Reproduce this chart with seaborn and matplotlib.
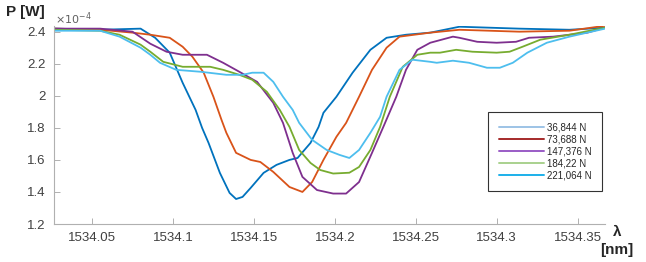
import numpy as np
import pandas as pd
import matplotlib.pyplot as plt
import seaborn as sns
from matplotlib.lines import Line2D

sns.set_style("white")
plt.rcParams['font.family'] = ['Liberation Sans', 'DejaVu Sans']

# wavelength [nm] and power [x1e-4 W], one pair per load
wl_36 = [1534.027, 1534.055, 1534.080, 1534.089, 1534.098, 1534.106, 1534.114, 1534.118,
         1534.122, 1534.129, 1534.135, 1534.139, 1534.143, 1534.148, 1534.156, 1534.164,
         1534.172, 1534.177, 1534.185, 1534.190, 1534.193, 1534.201, 1534.211, 1534.222,
         1534.232, 1534.244, 1534.259, 1534.277, 1534.314, 1534.345, 1534.367]
p_36 = [2.419, 2.412, 2.419, 2.362, 2.269, 2.081, 1.912, 1.800,
        1.706, 1.519, 1.394, 1.356, 1.369, 1.425, 1.519, 1.569,
        1.600, 1.612, 1.706, 1.806, 1.894, 1.994, 2.144, 2.287,
        2.362, 2.381, 2.394, 2.431, 2.419, 2.412, 2.425]

wl_73 = [1534.027, 1534.055, 1534.075, 1534.086, 1534.098, 1534.106, 1534.112, 1534.119,
         1534.125, 1534.130, 1534.133, 1534.139, 1534.148, 1534.154, 1534.162, 1534.172,
         1534.180, 1534.186, 1534.193, 1534.201, 1534.207, 1534.215, 1534.223, 1534.232,
         1534.240, 1534.259, 1534.277, 1534.314, 1534.345, 1534.367]
p_73 = [2.419, 2.412, 2.394, 2.381, 2.362, 2.306, 2.244, 2.144,
        1.994, 1.850, 1.769, 1.644, 1.600, 1.587, 1.525, 1.431,
        1.400, 1.462, 1.600, 1.744, 1.831, 1.994, 2.162, 2.300,
        2.369, 2.394, 2.412, 2.400, 2.406, 2.437]

wl_147 = [1534.027, 1534.055, 1534.075, 1534.086, 1534.096, 1534.106, 1534.121, 1534.131,
          1534.141, 1534.152, 1534.162, 1534.168, 1534.174, 1534.180, 1534.189, 1534.199,
          1534.207, 1534.215, 1534.223, 1534.230, 1534.238, 1534.244, 1534.251, 1534.259,
          1534.273, 1534.277, 1534.288, 1534.300, 1534.312, 1534.320, 1534.335, 1534.356,
          1534.367]
p_147 = [2.419, 2.419, 2.400, 2.325, 2.275, 2.256, 2.256, 2.206,
         2.150, 2.087, 1.956, 1.831, 1.644, 1.494, 1.412, 1.390,
         1.390, 1.462, 1.644, 1.806, 1.994, 2.162, 2.287, 2.331,
         2.369, 2.362, 2.337, 2.331, 2.337, 2.362, 2.369, 2.394,
         2.425]

wl_184 = [1534.027, 1534.055, 1534.067, 1534.080, 1534.086, 1534.094, 1534.106, 1534.123,
          1534.131, 1534.141, 1534.149, 1534.158, 1534.166, 1534.172, 1534.178, 1534.185,
          1534.191, 1534.199, 1534.209, 1534.215, 1534.222, 1534.228, 1534.234, 1534.242,
          1534.251, 1534.259, 1534.265, 1534.275, 1534.285, 1534.300, 1534.308, 1534.316,
          1534.327, 1534.345, 1534.367]
p_184 = [2.412, 2.406, 2.381, 2.319, 2.275, 2.212, 2.181, 2.181,
         2.162, 2.131, 2.100, 2.025, 1.912, 1.806, 1.662, 1.581,
         1.537, 1.515, 1.520, 1.556, 1.662, 1.806, 1.994, 2.181,
         2.256, 2.269, 2.269, 2.287, 2.275, 2.269, 2.275, 2.306,
         2.350, 2.381, 2.425]

wl_221 = [1534.027, 1534.055, 1534.067, 1534.080, 1534.086, 1534.092, 1534.102, 1534.117,
          1534.133, 1534.143, 1534.149, 1534.156, 1534.162, 1534.168, 1534.174, 1534.178,
          1534.186, 1534.195, 1534.203, 1534.209, 1534.215, 1534.222, 1534.228, 1534.232,
          1534.240, 1534.248, 1534.259, 1534.263, 1534.273, 1534.283, 1534.294, 1534.302,
          1534.310, 1534.319, 1534.331, 1534.345, 1534.367]
p_221 = [2.406, 2.406, 2.369, 2.300, 2.256, 2.206, 2.162, 2.150,
         2.131, 2.131, 2.144, 2.144, 2.087, 1.994, 1.912, 1.831,
         1.725, 1.662, 1.631, 1.612, 1.662, 1.769, 1.869, 1.994,
         2.162, 2.225, 2.212, 2.206, 2.219, 2.206, 2.175, 2.175,
         2.206, 2.269, 2.331, 2.369, 2.419]

labels = ['36,844 N', '73,688 N', '147,376 N', '184,22 N', '221,064 N']
line_colors = ['#0072BD', '#D95319', '#7E2F8E', '#77AC30', '#4DBEEE']
legend_colors = ['#9DC3E6', '#A52A2A', '#9A5CC6', '#A9D18E', '#1CB0EA']

x_ticks = [1534.05, 1534.1, 1534.15, 1534.2, 1534.25, 1534.3, 1534.35]
x_ticklabels = ['1534.05', '1534.1', '1534.15', '1534.2', '1534.25', '1534.3', '1534.35']
y_ticks = [1.2, 1.4, 1.6, 1.8, 2.0, 2.2, 2.4]
y_ticklabels = ['1.2', '1.4', '1.6', '1.8', '2', '2.2', '2.4']

series = [(wl_36, p_36), (wl_73, p_73), (wl_147, p_147), (wl_184, p_184), (wl_221, p_221)]
frames = []
for lab, (w, p) in zip(labels, series):
    frames.append(pd.DataFrame({'wl': w, 'P': p, 'load': lab}))
df = pd.concat(frames, ignore_index=True)

fig = plt.figure(figsize=(6.46, 2.62), dpi=100)
ax = fig.add_axes([0.0836, 0.145, 0.853, 0.757])

sns.lineplot(data=df, x='wl', y='P', hue='load', palette=line_colors,
             estimator=None, linewidth=1.3, legend=False, ax=ax)

ax.set_xlim(1534.0265, 1534.367)
ax.set_ylim(1.2, 2.4375)
ax.set_xticks(x_ticks)
ax.set_xticklabels(x_ticklabels)
ax.set_yticks(y_ticks)
ax.set_yticklabels(y_ticklabels)
ax.set_xlabel('')
ax.set_ylabel('')

for side in ['top', 'right']:
    ax.spines[side].set_visible(False)
for side in ['left', 'bottom']:
    ax.spines[side].set_color('#b0b0b0')
    ax.spines[side].set_linewidth(0.8)
ax.tick_params(direction='in', length=4, width=0.7, color='#b0b0b0',
               labelsize=9.5, labelcolor='#404040', pad=6, left=True, bottom=True)

fig.text(0.009, 0.955, 'P [W]', fontsize=11, fontweight='bold', ha='left', va='center')
fig.text(0.085, 0.93, r'$\times10^{-4}$', fontsize=8, color='#606060', ha='left', va='center')
fig.text(0.955, 0.115, 'λ', fontsize=11, fontweight='bold', ha='center', va='center')
fig.text(0.955, 0.045, '[nm]', fontsize=11, fontweight='bold', ha='center', va='center')

handles = [Line2D([0], [0], color=c, lw=1.4) for c in legend_colors]
leg = ax.legend(handles, labels, loc='upper left', bbox_to_anchor=(0.788, 0.566),
                fontsize=7, frameon=True, fancybox=False, handlelength=4.6,
                handletextpad=0.3, labelspacing=0.2, borderpad=1.1,
                borderaxespad=0)
leg.get_frame().set_edgecolor('black')
leg.get_frame().set_linewidth(0.8)

plt.savefig('out.png', dpi=100)
